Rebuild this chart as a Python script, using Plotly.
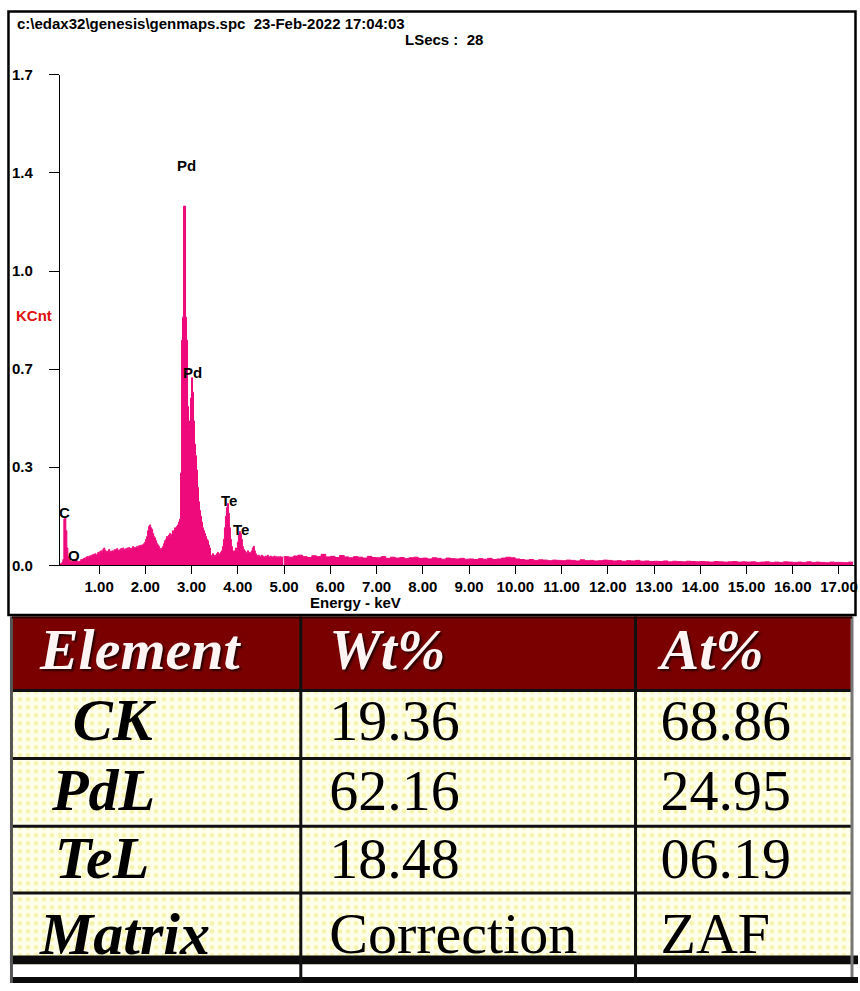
import plotly.graph_objects as go

# ---------------- data ----------------
# EDS spectrum, fine channels (keV start / step)
SPEC_E0 = 0.151
SPEC_DE = 0.02157
spec_counts = [
    0.005, 0.005, 0.01, 0.02, 0.16, 0.165, 0.12, 0.06, 0.03, 0.02,
    0.015, 0.012, 0.012, 0.015, 0.02, 0.02, 0.018, 0.015, 0.012, 0.012,
    0.015, 0.02, 0.018, 0.022, 0.025, 0.022, 0.028, 0.03, 0.026, 0.032,
    0.03, 0.035, 0.033, 0.038, 0.036, 0.04, 0.035, 0.038, 0.045, 0.04,
    0.048, 0.05, 0.045, 0.055, 0.06, 0.052, 0.048, 0.045, 0.05, 0.055,
    0.048, 0.045, 0.05, 0.048, 0.052, 0.055, 0.05, 0.058, 0.052, 0.05,
    0.055, 0.058, 0.052, 0.06, 0.055, 0.052, 0.058, 0.06, 0.055, 0.062,
    0.058, 0.055, 0.06, 0.065, 0.058, 0.062, 0.06, 0.065, 0.062, 0.068,
    0.065, 0.07, 0.068, 0.072, 0.075, 0.08, 0.09, 0.1, 0.12, 0.135,
    0.14, 0.13, 0.125, 0.11, 0.1, 0.095, 0.085, 0.075, 0.07, 0.065,
    0.058, 0.055, 0.06, 0.065, 0.075, 0.085, 0.09, 0.1, 0.095, 0.105,
    0.11, 0.1, 0.108, 0.12, 0.115, 0.13, 0.125, 0.135, 0.14, 0.15,
    0.16, 0.32, 0.78, 0.86, 1.245, 1.245, 0.86, 0.78, 0.55, 0.47,
    0.5, 0.58, 0.65, 0.6, 0.5, 0.42, 0.38, 0.33, 0.27, 0.22,
    0.19, 0.17, 0.15, 0.13, 0.12, 0.11, 0.1, 0.09, 0.085, 0.07,
    0.06, 0.035, 0.03, 0.04, 0.035, 0.03, 0.035, 0.04, 0.045, 0.035,
    0.04, 0.045, 0.05, 0.065, 0.09, 0.13, 0.17, 0.2, 0.214, 0.18,
    0.13, 0.09, 0.065, 0.05, 0.045, 0.05, 0.06, 0.05, 0.08, 0.105,
    0.117, 0.11, 0.09, 0.065, 0.055, 0.05, 0.045, 0.042, 0.05, 0.045,
    0.04, 0.045, 0.05, 0.06, 0.066, 0.05, 0.04, 0.035, 0.03, 0.035,
    0.032, 0.03, 0.035, 0.032, 0.03, 0.028, 0.032, 0.03, 0.035, 0.03,
    0.028, 0.032, 0.03, 0.028, 0.03, 0.032, 0.028, 0.03, 0.027, 0.03,
    0.028, 0.03, 0.026, 0.028, 0.03,
]
# high-energy tail, coarser channels
TAIL_E0 = 5.0
TAIL_DE = 0.1
tail_counts = [
    0.03, 0.028, 0.032, 0.035, 0.03, 0.027, 0.033, 0.03, 0.038, 0.029,
    0.031, 0.027, 0.034, 0.029, 0.026, 0.03, 0.028, 0.025, 0.031, 0.027,
    0.026, 0.03, 0.024, 0.028, 0.025, 0.027, 0.023, 0.026, 0.028, 0.024,
    0.025, 0.022, 0.026, 0.024, 0.021, 0.025, 0.023, 0.022, 0.024, 0.021,
    0.022, 0.02, 0.023, 0.021, 0.024, 0.02, 0.022, 0.025, 0.028, 0.026,
    0.022, 0.02, 0.018, 0.02, 0.017, 0.019, 0.018, 0.016, 0.018, 0.017,
    0.016, 0.018, 0.017, 0.015, 0.019, 0.016, 0.017, 0.015, 0.016, 0.018,
    0.017, 0.015, 0.016, 0.014, 0.016, 0.015, 0.017, 0.014, 0.015, 0.013,
    0.014, 0.013, 0.015, 0.012, 0.014, 0.013, 0.012, 0.014, 0.013, 0.012,
    0.013, 0.012, 0.011, 0.013, 0.012, 0.011, 0.012, 0.013, 0.011, 0.012,
    0.011, 0.012, 0.01, 0.011, 0.012, 0.01, 0.011, 0.01, 0.012, 0.011,
    0.01, 0.011, 0.01, 0.012, 0.01, 0.011, 0.01, 0.009, 0.011, 0.01,
    0.01, 0.009, 0.011, 0.01,
]

peak_labels = ["C", "O", "Pd", "Pd", "Te", "Te"]
peak_energy = [0.252, 0.464, 2.880, 3.027, 3.812, 4.063]
peak_height = [0.182, 0.034, 1.386, 0.668, 0.225, 0.125]

x_tick_vals = [1, 2, 3, 4, 5, 6, 7, 8, 9, 10, 11, 12, 13, 14, 15, 16, 17]
x_tick_text = ["1.00", "2.00", "3.00", "4.00", "5.00", "6.00", "7.00", "8.00",
               "9.00", "10.00", "11.00", "12.00", "13.00", "14.00", "15.00",
               "16.00", "17.00"]
y_tick_vals = [0.0, 0.34, 0.68, 1.02, 1.36, 1.70]
y_tick_text = ["0.0", "0.3", "0.7", "1.0", "1.4", "1.7"]

header_line = "c:\\edax32\\genesis\\genmaps.spc  23-Feb-2022 17:04:03"
lsecs_line = "LSecs :  28"

table_header = ["Element", "Wt%", "At%"]
table_elements = ["CK", "PdL", "TeL", "Matrix"]
table_wt = ["19.36", "62.16", "18.48", "Correction"]
table_at = ["68.86", "24.95", "06.19", "ZAF"]

# ---------------- styling / layout ----------------
W, H = 860, 991
PINK = "#EE0A7B"
SANS = "Liberation Sans, Arial, sans-serif"
SERIF = "Liberation Serif, Times New Roman, serif"

def px_x(p):
    return p / W

def px_y(p):
    return 1 - p / H

# chart geometry in pixels
CH_LEFT, CH_RIGHT, CH_TOP, CH_BASE = 60, 858, 67, 566
KEV_PER_PX = 1 / 46.35
KEV_AT_PX0 = -53.0 * KEV_PER_PX
x_range = [KEV_AT_PX0 + CH_LEFT * KEV_PER_PX, KEV_AT_PX0 + CH_RIGHT * KEV_PER_PX]

fig = go.Figure()

fig.add_trace(go.Scatter(
    y=spec_counts, x0=SPEC_E0, dx=SPEC_DE, mode="lines",
    line=dict(color=PINK, width=1, shape="hv"),
    fill="tozeroy", fillcolor=PINK, hoverinfo="skip", showlegend=False,
    xaxis="x", yaxis="y"))
fig.add_trace(go.Scatter(
    y=tail_counts, x0=TAIL_E0, dx=TAIL_DE, mode="lines",
    line=dict(color=PINK, width=1, shape="hv"),
    fill="tozeroy", fillcolor=PINK, hoverinfo="skip", showlegend=False,
    xaxis="x", yaxis="y"))

# ---------------- table (pixel-space subplot) ----------------
T_LEFT, T_RIGHT = 12, 854
T_TOP, HDR_BOT = 618, 692
row_bounds = [692, 761, 830, 898, 965]
col_lines = [301.5, 637]
row_y = [729, 800, 869, 946]
hdr_y = 657
hdr_x = [40, 330, 662]
elem_x = [73, 52, 55, 40]
col2_x, col3_x = 330, 662

# patterned body cells
fig.add_trace(go.Scatter(
    x=[T_LEFT, T_RIGHT, T_RIGHT, T_LEFT, T_LEFT],
    y=[HDR_BOT, HDR_BOT, 972, 972, HDR_BOT],
    mode="lines", fill="toself", line=dict(width=0, color="rgba(0,0,0,0)"),
    fillcolor="#FFFFEC",
    fillpattern=dict(shape=".", fgcolor="#EEE86A", bgcolor="#FFFFEE",
                     size=8, solidity=0.3),
    hoverinfo="skip", showlegend=False, xaxis="x2", yaxis="y2"))

TFONT = 60
VFONT = 58
fig.add_trace(go.Scatter(
    x=hdr_x, y=[hdr_y] * 3, text=table_header, mode="text",
    textposition="middle right",
    textfont=dict(family=SERIF, size=TFONT - 2, color="#FFF4F4",
                  weight="bold", style="italic",
                  shadow="2px 2px 2px #2a0000"),
    hoverinfo="skip", showlegend=False, xaxis="x2", yaxis="y2"))
fig.add_trace(go.Scatter(
    x=elem_x, y=row_y, text=table_elements, mode="text",
    textposition="middle right",
    textfont=dict(family=SERIF, size=TFONT, color="black",
                  weight="bold", style="italic"),
    hoverinfo="skip", showlegend=False, xaxis="x2", yaxis="y2"))
fig.add_trace(go.Scatter(
    x=[col2_x] * 4, y=row_y, text=table_wt, mode="text",
    textposition="middle right",
    textfont=dict(family=SERIF, size=VFONT, color="black"),
    hoverinfo="skip", showlegend=False, xaxis="x2", yaxis="y2"))
fig.add_trace(go.Scatter(
    x=[col3_x] * 4, y=row_y, text=table_at, mode="text",
    textposition="middle right",
    textfont=dict(family=SERIF, size=VFONT, color="black"),
    hoverinfo="skip", showlegend=False, xaxis="x2", yaxis="y2"))

shapes = []
# header background (below traces)
shapes.append(dict(type="rect", xref="x2", yref="y2", x0=T_LEFT, x1=T_RIGHT,
                   y0=T_TOP, y1=HDR_BOT, fillcolor="#7A0000",
                   line=dict(width=0), layer="below"))
# horizontal separators
for yb in row_bounds[:-1]:
    shapes.append(dict(type="line", xref="x2", yref="y2", x0=T_LEFT, x1=T_RIGHT,
                       y0=yb + 1.5, y1=yb + 1.5,
                       line=dict(color="#111111", width=3), layer="above"))
# thick bottom rule and bottom band
shapes.append(dict(type="rect", xref="x2", yref="y2", x0=10, x1=W,
                   y0=963, y1=972, fillcolor="#0a0a0a", line=dict(width=0),
                   layer="above"))
shapes.append(dict(type="rect", xref="x2", yref="y2", x0=10, x1=W,
                   y0=985, y1=H, fillcolor="#0a0a0a", line=dict(width=0),
                   layer="above"))
# vertical separators
for xc in col_lines:
    shapes.append(dict(type="line", xref="x2", yref="y2", x0=xc, x1=xc,
                       y0=T_TOP, y1=H, line=dict(color="#111111", width=3),
                       layer="above"))
# table outer edges
shapes.append(dict(type="line", xref="x2", yref="y2", x0=11.5, x1=11.5,
                   y0=T_TOP, y1=H, line=dict(color="#555555", width=3),
                   layer="above"))
shapes.append(dict(type="line", xref="x2", yref="y2", x0=T_RIGHT, x1=T_RIGHT,
                   y0=T_TOP, y1=985, line=dict(color="#777777", width=3),
                   layer="above"))
shapes.append(dict(type="line", xref="x2", yref="y2", x0=T_LEFT, x1=T_RIGHT,
                   y0=619, y1=619, line=dict(color="#2a0000", width=2),
                   layer="above"))
# chart panel border
shapes.append(dict(type="rect", xref="paper", yref="paper",
                   x0=px_x(8.5), x1=px_x(857.5), y0=px_y(616.5), y1=px_y(2.5),
                   line=dict(color="black", width=2.5), fillcolor="rgba(0,0,0,0)",
                   layer="above"))

annotations = []
BOLD15 = dict(family=SANS, size=15, color="black", weight="bold")
annotations.append(dict(text=header_line, xref="paper", yref="paper",
                        x=px_x(15), y=px_y(15), xanchor="left", yanchor="middle",
                        showarrow=False, font=BOLD15))
annotations.append(dict(text=lsecs_line, xref="paper", yref="paper",
                        x=px_x(486), y=px_y(31), xanchor="right", yanchor="middle",
                        showarrow=False, font=BOLD15))
annotations.append(dict(text="KCnt", xref="paper", yref="paper",
                        x=px_x(14), y=px_y(312), xanchor="left", yanchor="middle",
                        showarrow=False,
                        font=dict(family=SANS, size=15, color="#E01010", weight="bold")))
annotations.append(dict(text="Energy - keV", xref="paper", yref="paper",
                        x=px_x(356), y=px_y(604), xanchor="center", yanchor="middle",
                        showarrow=False, font=BOLD15))
for lab, e, h in zip(peak_labels, peak_energy, peak_height):
    annotations.append(dict(text=lab, xref="x", yref="y", x=e, y=h,
                            xanchor="center", yanchor="middle", showarrow=False,
                            font=BOLD15))

fig.update_layout(
    width=W, height=H, margin=dict(l=0, r=0, t=0, b=0),
    paper_bgcolor="white", plot_bgcolor="rgba(0,0,0,0)",
    showlegend=False,
    xaxis=dict(domain=[px_x(CH_LEFT), px_x(CH_RIGHT)], range=x_range,
               anchor="y", showgrid=False, zeroline=False,
               showline=True, linecolor="black", linewidth=1,
               ticks="outside", ticklen=8, tickwidth=1, tickcolor="black",
               tickvals=x_tick_vals, ticktext=x_tick_text,
               tickfont=BOLD15, fixedrange=True),
    yaxis=dict(domain=[px_y(CH_BASE), px_y(CH_TOP)], range=[0, 1.7],
               anchor="x", showgrid=False, zeroline=False,
               showline=True, linecolor="black", linewidth=1,
               ticks="outside", ticklen=10, tickwidth=1, tickcolor="black",
               tickvals=y_tick_vals, ticktext=y_tick_text,
               tickfont=BOLD15, ticklabelstandoff=13, fixedrange=True),
    xaxis2=dict(domain=[0, 1], range=[0, W], anchor="y2", visible=False,
                fixedrange=True),
    yaxis2=dict(domain=[0, px_y(617)], range=[H, 617], anchor="x2",
                visible=False, fixedrange=True),
    shapes=shapes, annotations=annotations,
)

fig.write_html("out.html")
